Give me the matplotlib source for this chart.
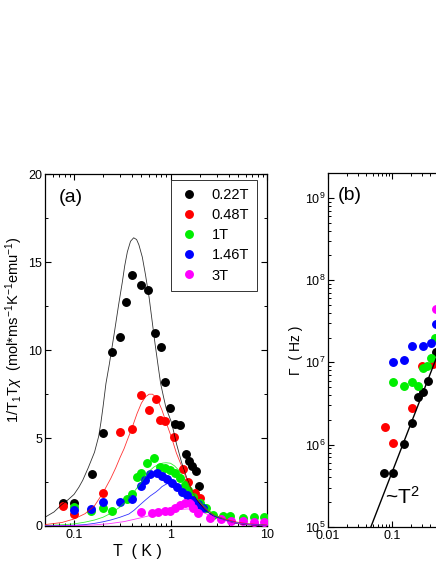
import matplotlib
matplotlib.use("Agg")
import matplotlib.pyplot as plt
import numpy as np
from matplotlib.ticker import FixedLocator, FixedFormatter, LogLocator, NullFormatter, MultipleLocator

plt.rcParams['font.family'] = ['Liberation Sans', 'DejaVu Sans']
plt.rcParams['mathtext.fontset'] = 'custom'
plt.rcParams['mathtext.rm'] = 'Liberation Sans'
plt.rcParams['mathtext.it'] = 'Liberation Sans:italic'
plt.rcParams['mathtext.default'] = 'regular'

# ---------------- data: panel (a) ----------------
fields = ["0.22T", "0.48T", "1T", "1.46T", "3T"]
colors = ["#000000", "#ff0000", "#00ee00", "#0000ff", "#ff00ff"]

T_022 = [0.077, 0.10, 0.152, 0.20, 0.25, 0.30, 0.346, 0.395, 0.497, 0.59, 0.686, 0.79, 0.88, 0.99, 1.1, 1.25, 1.46, 1.55, 1.65, 1.82, 1.97]
V_022 = [1.29, 1.33, 2.95, 5.28, 9.9, 10.77, 12.76, 14.3, 13.73, 13.43, 11.0, 10.2, 8.2, 6.7, 5.8, 5.74, 4.08, 3.7, 3.42, 3.15, 2.28]

T_048 = [0.077, 0.10, 0.20, 0.30, 0.40, 0.497, 0.595, 0.70, 0.784, 0.87, 1.09, 1.34, 1.53, 1.79, 2.01]
V_048 = [1.14, 0.68, 1.9, 5.37, 5.53, 7.48, 6.61, 7.22, 6.04, 6.0, 5.09, 3.23, 2.53, 1.86, 1.58]

T_1 = [0.10, 0.15, 0.20, 0.25, 0.35, 0.40, 0.45, 0.50, 0.57, 0.68, 0.78, 0.88, 0.99, 1.12, 1.26, 1.41, 1.53, 1.72, 2.0, 2.36, 2.76, 3.5, 4.1, 5.7, 7.4, 9.2]
V_1 = [1.1, 0.87, 1.0, 0.85, 1.54, 1.82, 2.77, 3.0, 3.6, 3.86, 3.38, 3.29, 3.19, 3.0, 2.72, 2.34, 2.05, 1.67, 1.29, 1.0, 0.63, 0.57, 0.57, 0.47, 0.53, 0.53]

T_146 = [0.10, 0.15, 0.20, 0.30, 0.395, 0.49, 0.55, 0.62, 0.72, 0.815, 0.92, 1.03, 1.16, 1.31, 1.47, 1.65, 1.94, 2.18]
V_146 = [0.91, 0.97, 1.38, 1.35, 1.54, 2.26, 2.62, 2.94, 3.0, 2.85, 2.66, 2.43, 2.24, 1.95, 1.77, 1.48, 1.25, 1.0]

T_3 = [0.49, 0.65, 0.75, 0.88, 0.99, 1.12, 1.26, 1.41, 1.59, 1.72, 1.94, 2.55, 3.35, 4.2, 5.7, 7.4, 9.2]
V_3 = [0.78, 0.75, 0.8, 0.85, 0.88, 1.05, 1.2, 1.3, 1.29, 1.05, 0.75, 0.45, 0.38, 0.30, 0.30, 0.22, 0.22]

# fit curves
fitT_022 = [0.05, 0.062, 0.074, 0.087, 0.1, 0.112, 0.123, 0.14, 0.163, 0.18, 0.19, 0.2, 0.214, 0.232, 0.26, 0.29, 0.317, 0.335,
            0.357, 0.385, 0.415, 0.445, 0.47, 0.51, 0.55, 0.6, 0.64, 0.69, 0.74, 0.79, 0.85, 0.9, 0.96, 1.03, 1.15,
            1.31, 1.47, 1.65, 1.9, 2.27, 2.8, 3.63, 4.8, 6.3, 10]
fitV_022 = [0.5, 0.8, 1.2, 1.5, 1.8, 2.2, 2.6, 3.3, 4.2, 5.1, 5.9, 6.8, 8.1, 9.2, 10.9, 12.6, 13.9, 14.8,
            15.6, 16.2, 16.4, 16.3, 16.0, 15.3, 14.3, 13.0, 11.8, 10.4, 9.2, 8.1, 7.3, 6.7, 6.3, 5.85, 4.7,
            3.57, 2.75, 2.05, 1.45, 0.91, 0.55, 0.34, 0.15, 0.06, 0.02]

fitT_048 = [0.05, 0.075, 0.1, 0.13, 0.163, 0.2, 0.24, 0.27, 0.3, 0.33, 0.357, 0.4, 0.45, 0.5, 0.55, 0.6, 0.65, 0.7, 0.76,
            0.815, 0.9, 1.03, 1.15, 1.31, 1.47, 1.65, 1.9, 2.27, 2.8, 3.63, 4.8, 6.3, 10]
fitV_048 = [0.08, 0.2, 0.4, 0.7, 1.15, 1.9, 2.7, 3.3, 3.9, 4.4, 4.9, 5.6, 6.4, 7.0, 7.35, 7.5, 7.5, 7.35, 7.0,
            6.6, 5.9, 5.0, 4.15, 3.38, 2.65, 2.05, 1.5, 1.0, 0.65, 0.4, 0.23, 0.13, 0.05]

fitT_1 = [0.05, 0.075, 0.1, 0.13, 0.163, 0.2, 0.24, 0.3, 0.357, 0.42, 0.49, 0.55, 0.61, 0.67, 0.75, 0.83, 0.9, 1.0, 1.1, 1.21,
          1.33, 1.47, 1.7, 1.94, 2.45, 3.0, 3.63, 4.8, 6.3, 10]
fitV_1 = [0.03, 0.07, 0.12, 0.22, 0.34, 0.5, 0.72, 1.08, 1.48, 1.95, 2.45, 2.85, 3.15, 3.35, 3.5, 3.58, 3.6, 3.57, 3.42, 3.19,
          2.85, 2.43, 1.9, 1.48, 0.91, 0.58, 0.34, 0.18, 0.11, 0.04]

fitT_146 = [0.05, 0.075, 0.1, 0.13, 0.163, 0.2, 0.24, 0.3, 0.37, 0.42, 0.47, 0.55, 0.62, 0.70, 0.76, 0.815, 0.9, 0.99, 1.1,
            1.2, 1.31, 1.5, 1.79, 2.27, 2.8, 3.63, 4.8, 6.3, 10]
fitV_146 = [0.01, 0.02, 0.04, 0.08, 0.15, 0.24, 0.34, 0.5, 0.68, 0.9, 1.15, 1.48, 1.72, 1.92, 2.08, 2.24, 2.38, 2.45, 2.42,
            2.3, 2.05, 1.75, 1.38, 0.91, 0.58, 0.34, 0.18, 0.1, 0.03]

fitT_3 = [0.05, 0.1, 0.16, 0.23, 0.33, 0.47, 0.65, 0.88, 1.1, 1.3, 1.5, 1.7, 1.95, 2.2, 2.6, 3.0, 4.0, 5.0, 7.0, 10]
fitV_3 = [0.0, 0.02, 0.06, 0.13, 0.25, 0.44, 0.63, 0.8, 0.9, 0.95, 0.97, 0.95, 0.87, 0.75, 0.6, 0.45, 0.26, 0.15, 0.07, 0.03]

# ---------------- data: panel (b) ----------------
bT_022 = [0.0766, 0.104, 0.156, 0.208, 0.255, 0.31, 0.366, 0.5]
bG_022 = [4.5e5, 4.5e5, 1.02e6, 1.86e6, 3.8e6, 4.35e6, 5.9e6, 1.35e7]
bT_048 = [0.0773, 0.104, 0.208, 0.30, 0.45]
bG_048 = [1.62e6, 1.05e6, 2.76e6, 9.1e6, 9.5e6]
bT_1 = [0.104, 0.156, 0.208, 0.26, 0.31, 0.36, 0.414, 0.48]
bG_1 = [5.75e6, 5.2e6, 5.7e6, 5.1e6, 8.5e6, 9.0e6, 1.12e7, 2.0e7]
bT_146 = [0.104, 0.156, 0.208, 0.31, 0.414, 0.5]
bG_146 = [1.02e7, 1.07e7, 1.6e7, 1.57e7, 1.74e7, 2.9e7]
bT_3 = [0.49]
bG_3 = [4.5e7]
lineT = [0.047, 1.0]
lineG = [1.0e5, 4.5e7]

xticks_a = [0.1, 1, 10]
xticklabels_a = ["0.1", "1", "10"]
yticks_a = [0, 5, 10, 15, 20]
xticks_b = [0.01, 0.1, 1, 10, 100]
xticklabels_b = ["0.01", "0.1", "1", "10", "100"]

# ---------------- figure ----------------
W, H = 436, 564
fig = plt.figure(figsize=(W / 100, H / 100), dpi=100)

def ax_rect(l, t, r, b):
    return [l / W, (H - b) / H, (r - l) / W, (b - t) / H]

axa = fig.add_axes(ax_rect(45, 174.5, 267, 526))
axb = fig.add_axes(ax_rect(328, 173, 583, 527))

ms = 5.4
series_a = [(T_022, V_022), (T_048, V_048), (T_1, V_1), (T_146, V_146), (T_3, V_3)]
fits_a = [(fitT_022, fitV_022), (fitT_048, fitV_048), (fitT_1, fitV_1), (fitT_146, fitV_146), (fitT_3, fitV_3)]
for (t, v), lab, c in zip(series_a, fields, colors):
    axa.plot(t, v, 'o', ms=ms, color=c, mec=c, label=lab, zorder=3)
for (t, v), c in zip(fits_a, colors):
    axa.plot(t, v, '-', color=c, lw=0.6, alpha=0.8, zorder=4, solid_joinstyle='round')

axa.set_xscale('log')
axa.set_xlim(0.05, 10)
axa.set_ylim(0, 20)
axa.xaxis.set_major_locator(FixedLocator(xticks_a))
axa.xaxis.set_major_formatter(FixedFormatter(xticklabels_a))
axa.xaxis.set_minor_locator(LogLocator(base=10, subs=np.arange(2, 10), numticks=20))
axa.xaxis.set_minor_formatter(NullFormatter())
axa.yaxis.set_major_locator(FixedLocator(yticks_a))
axa.yaxis.set_minor_locator(MultipleLocator(2.5))

for ax in (axa, axb):
    ax.tick_params(which='both', direction='in', top=True, right=True, labelsize=9, pad=2)
    ax.tick_params(which='major', length=4.5, width=0.8)
    ax.tick_params(which='minor', length=2.5, width=0.7)
    for s in ax.spines.values():
        s.set_linewidth(0.9)

axa.text(0.06, 0.96, "(a)", transform=axa.transAxes, fontsize=14, va='top', ha='left')
axa.set_xlabel("T  ( K )", fontsize=11.5)
axa.xaxis.set_label_coords(0.415, -0.072)
axa.xaxis.label.set_va('center')
axa.set_ylabel(r"1/T$_1$T$\it{\chi}$  (mol*ms$^{-1}$K$^{-1}$emu$^{-1}$)", fontsize=10.5)
axa.yaxis.set_label_coords(-0.14, 0.56)
axa.yaxis.label.set_va('center')

leg = axa.legend(loc='upper left', bbox_to_anchor=((170.7 - 45) / 222, 1 - (180 - 174.5) / 351.5),
                 frameon=True, fancybox=False, fontsize=10.5, handletextpad=0.85,
                 labelspacing=0.42, borderpad=0.55, handlelength=1.4, borderaxespad=0)
leg.get_frame().set_edgecolor('black')
leg.get_frame().set_linewidth(0.7)

# panel (b)
series_b = [(bT_022, bG_022), (bT_048, bG_048), (bT_1, bG_1), (bT_146, bG_146), (bT_3, bG_3)]
for (t, g), c in zip(series_b, colors):
    axb.plot(t, g, 'o', ms=ms, color=c, mec=c, zorder=3)
axb.plot(lineT, lineG, '-', color='black', lw=1.0, zorder=4)
axb.set_xscale('log')
axb.set_yscale('log')
axb.set_xlim(0.01, 100)
axb.set_ylim(1e5, 2e9)
axb.xaxis.set_major_locator(FixedLocator(xticks_b))
axb.xaxis.set_major_formatter(FixedFormatter(xticklabels_b))
axb.xaxis.set_minor_locator(LogLocator(base=10, subs=np.arange(2, 10), numticks=20))
axb.xaxis.set_minor_formatter(NullFormatter())
axb.yaxis.set_minor_locator(LogLocator(base=10, subs=np.arange(2, 10), numticks=20))
axb.yaxis.set_minor_formatter(NullFormatter())
axb.tick_params(axis='y', labelsize=9)
axb.text(0.04, 0.96, "(b)", transform=axb.transAxes, fontsize=14, va='top', ha='left')
axb.text(0.225, 0.085, "~T$^2$", transform=axb.transAxes, fontsize=15, va='center', ha='left')
axb.set_xlabel("T  ( K )", fontsize=11.5)
axb.xaxis.set_label_coords(0.525, -0.072)
axb.xaxis.label.set_va('center')
axb.set_ylabel("Γ  ( Hz )", fontsize=10)
axb.yaxis.set_label_coords(-0.125, 0.5)
axb.yaxis.label.set_va('center')

fig.savefig("out.png", dpi=100)
